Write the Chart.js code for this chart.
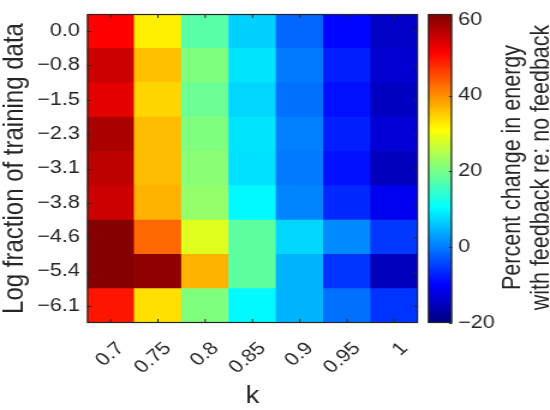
<!DOCTYPE html>
<html><head><meta charset="utf-8">
<script src="https://cdn.jsdelivr.net/npm/chart.js@4.4.0/dist/chart.umd.min.js"></script>
<style>html,body{margin:0;padding:0;background:#fff;overflow:hidden}#wrap{width:550px;height:410px}canvas{display:block}</style>
</head><body><div id="wrap"><canvas id="c" width="458" height="410" style="width:550px;height:410px"></canvas></div>
<script>
// ---- data ----
const kLabels = ['0.7', '0.75', '0.8', '0.85', '0.9', '0.95', '1'];
// rows listed from top to bottom of the heatmap
const rowLabels = ['0.0', '\u22120.8', '\u22121.5', '\u22122.3', '\u22123.1', '\u22123.8', '\u22124.6', '\u22125.4', '\u22126.1'];
const row0p0  = [51.3, 32.2, 17.7,  6.9, -1.7, -9.4, -14.3];
const rowM0p8 = [55.4, 36.0, 20.8,  8.5,  0.0, -7.4, -13.5];
const rowM1p5 = [53.4, 34.2, 19.1,  7.3, -0.8, -8.6, -14.7];
const rowM2p3 = [58.1, 36.2, 20.8,  8.5,  0.4, -7.4, -13.1];
const rowM3p1 = [56.6, 36.2, 21.6,  8.1,  0.0, -8.6, -15.1];
const rowM3p8 = [55.4, 37.1, 22.4, 10.2,  0.8, -6.6, -11.0];
const rowM4p6 = [61.1, 43.0, 28.5, 18.1,  7.3,  1.2,  -5.3];
const rowM5p4 = [61.1, 60.3, 37.1, 18.1,  4.5, -5.7, -15.1];
const rowM6p1 = [49.7, 33.4, 20.8, 10.2,  4.5, -0.8,  -5.7];
const rowValues = [row0p0, rowM0p8, rowM1p5, rowM2p3, rowM3p1, rowM3p8, rowM4p6, rowM5p4, rowM6p1];
const colorTicks = [-20, 0, 20, 40, 60];
const colorMin = -20, colorMax = 61.5;
const cbTitle = ['Percent change in energy', 'with feedback re: no feedback'];

// ---- helpers ----
const TXT = '#262626';
const SX = 550 / 458;   // the canvas is drawn 458 wide and shown 550 wide (horizontally widened figure)
const px = v => v / SX; // screen-x distance -> canvas-x distance
function jet(v) {
  let t = (v - colorMin) / (colorMax - colorMin);
  t = Math.max(0, Math.min(1, t));
  const f = x => Math.max(0, Math.min(1, 1.5 - Math.abs(4 * t - x)));
  return 'rgb(' + Math.round(255 * f(3)) + ',' + Math.round(255 * f(2)) + ',' + Math.round(255 * f(1)) + ')';
}

Chart.defaults.font.family = "'Liberation Sans', Arial, Helvetica, sans-serif";
Chart.defaults.color = TXT;

// stacked unit-height bars: bottom row first
const datasets = rowValues.slice().reverse().map((vals, i) => ({
  label: rowLabels[rowLabels.length - 1 - i],
  data: vals.map(() => 1),
  backgroundColor: vals.map(jet),
  borderWidth: 0,
  barPercentage: 1,
  categoryPercentage: 1,
  yAxisID: 'y'
}));

const decor = {
  id: 'decor',
  afterDraw(chart) {
    const ctx = chart.ctx, a = chart.chartArea;
    const xs = chart.scales.x, ys = chart.scales.y, cb = chart.scales.cb;
    ctx.save();
    ctx.strokeStyle = TXT;
    ctx.lineWidth = 1;
    // inward ticks on heatmap
    ctx.beginPath();
    kLabels.forEach((_, i) => {
      const x = xs.getPixelForValue(i);
      ctx.moveTo(x, a.top); ctx.lineTo(x, a.top + 4);
      ctx.moveTo(x, a.bottom); ctx.lineTo(x, a.bottom - 4);
    });
    rowLabels.forEach((_, i) => {
      const y = Math.round(ys.getPixelForValue(8.5 - i)) + 0.5;
      ctx.moveTo(a.left, y); ctx.lineTo(a.left + px(4), y);
      ctx.moveTo(a.right, y); ctx.lineTo(a.right - px(4), y);
    });
    ctx.stroke();
    ctx.lineWidth = 1.2;
    ctx.strokeRect(a.left + 0.5, a.top + 0.5, a.right - a.left - 1, a.bottom - a.top - 1);
    // colorbar
    const cx0 = a.right + px(10), cw = px(24);
    const yTop = cb.getPixelForValue(colorMax), yBot = cb.getPixelForValue(colorMin);
    const g = ctx.createLinearGradient(0, yBot, 0, yTop);
    for (let s = 0; s <= 64; s++) {
      const v = colorMin + (colorMax - colorMin) * s / 64;
      g.addColorStop(s / 64, jet(v));
    }
    ctx.fillStyle = g;
    ctx.fillRect(cx0, yTop, cw, yBot - yTop);
    ctx.beginPath();
    colorTicks.forEach(v => {
      const y = Math.round(cb.getPixelForValue(v)) + 0.5;
      ctx.moveTo(cx0 + cw, y); ctx.lineTo(cx0 + cw - px(3), y);
    });
    ctx.lineWidth = 1;
    ctx.stroke();
    ctx.lineWidth = 1.2;
    ctx.strokeRect(cx0 + 0.5, yTop + 0.5, cw - 1, yBot - yTop - 1);
    // colorbar title (rotated, reading upward)
    ctx.fillStyle = TXT;
    ctx.font = "21.5px 'Liberation Sans', Arial, sans-serif";
    ctx.textAlign = 'center';
    ctx.textBaseline = 'middle';
    const cy = (a.top + a.bottom) / 2 - 1;
    cbTitle.forEach((line, i) => {
      ctx.save();
      ctx.translate(a.right + px(95 + i * 29), cy);
      ctx.rotate(-Math.PI / 2);
      ctx.fillText(line, 0, 0);
      ctx.restore();
    });
    ctx.restore();
  }
};

function noVPad(s) { s.paddingTop = 0; s.paddingBottom = 0; }

new Chart(document.getElementById('c'), {
  type: 'bar',
  data: { labels: kLabels, datasets },
  options: {
    responsive: false,
    maintainAspectRatio: false,
    devicePixelRatio: 1,
    animation: false,
    events: [],
    layout: { padding: { top: 14, left: 0, right: 0, bottom: 0 } },
    plugins: { legend: { display: false }, tooltip: { enabled: false } },
    scales: {
      x: {
        type: 'category',
        stacked: true,
        grid: { display: false, drawTicks: false },
        border: { display: false },
        ticks: { minRotation: 45, maxRotation: 45, autoSkip: false, padding: 15, labelOffset: px(10), font: { size: 18 }, color: TXT },
        title: { display: true, text: 'k', font: { size: 23, lineHeight: 1 }, color: TXT, padding: { top: 0, bottom: 2 } },
        afterFit: s => { s.height = 87; noVPad(s); s.paddingLeft = 0; s.paddingRight = 0; }
      },
      y: {
        type: 'linear',
        stacked: true,
        min: 0, max: 9,
        position: 'left',
        grid: { display: false, drawTicks: false },
        border: { display: false },
        afterBuildTicks: s => { s.ticks = rowLabels.map((_, i) => ({ value: 8.5 - i })); },
        ticks: { padding: px(7), font: { size: 18 }, color: TXT, callback: v => rowLabels[Math.round(8.5 - v)] },
        title: { display: true, text: 'Log fraction of training data', font: { size: 24, lineHeight: 1 }, color: TXT, padding: { top: 0.5, bottom: 0 } },
        afterFit: s => { s.width = px(87); noVPad(s); }
      },
      cb: {
        type: 'linear',
        position: 'right',
        min: colorMin, max: colorMax,
        grid: { display: false, drawTicks: false },
        border: { display: false },
        afterBuildTicks: s => { s.ticks = colorTicks.map(v => ({ value: v })); },
        ticks: { padding: px(40), font: { size: 18 }, color: TXT, callback: v => (v < 0 ? '\u2212' + Math.abs(v) : String(v)) },
        afterFit: s => { s.width = px(132); noVPad(s); }
      }
    }
  },
  plugins: [decor]
});
</script>
</body></html>
